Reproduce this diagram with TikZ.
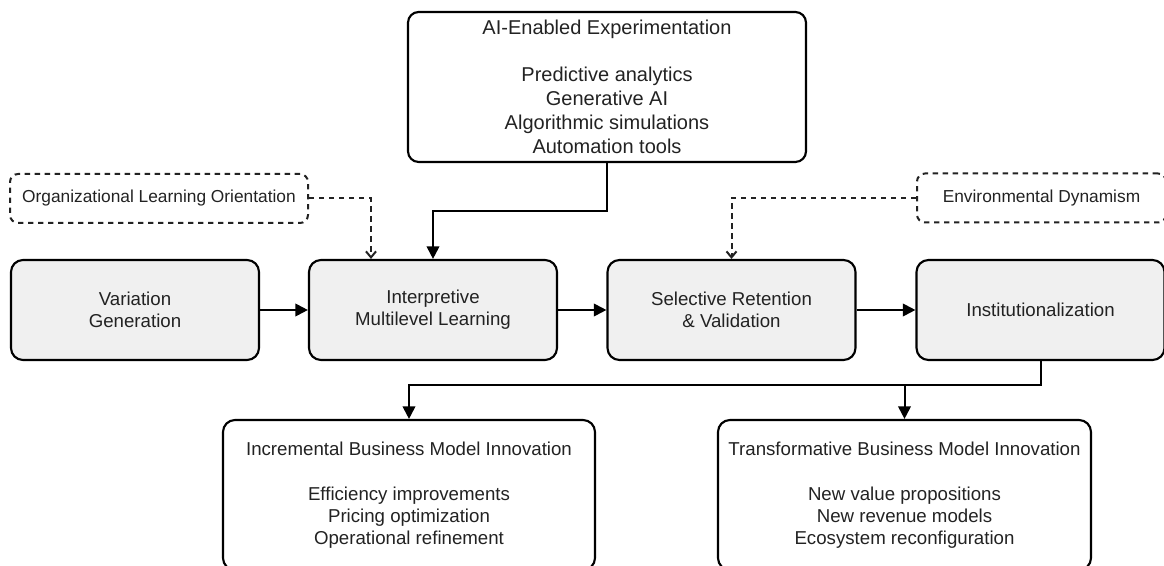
\documentclass[tikz,border=0pt]{standalone}
\usepackage{fontspec}
\setmainfont{Liberation Sans}
\usetikzlibrary{arrows.meta,positioning}
\definecolor{stagefill}{HTML}{F0F0F0}
\definecolor{ink}{HTML}{222222}

\begin{document}
\begin{tikzpicture}[x=0.75pt,y=-0.75pt,
	box/.style={draw=black,line width=1.6pt,rounded corners=9pt,align=center,text=ink,inner sep=0pt},
	stage/.style={box,fill=stagefill,minimum width=186pt,minimum height=75pt,font=\fontsize{14}{16.5}\selectfont},
	outcome/.style={box,minimum width=279pt,minimum height=112.5pt,font=\fontsize{14}{16.5}\selectfont},
	moderator/.style={draw=ink,line width=1.5pt,dash pattern=on 4pt off 3.5pt,rounded corners=6pt,minimum height=36.75pt,text=ink,font=\fontsize{13}{15}\selectfont},
	flow/.style={line width=1.5pt,-{Triangle[length=9.5pt,width=9.5pt]}},
	hint/.style={draw=ink,line width=1.5pt,dash pattern=on 4pt off 3.5pt,-{Straight Barb[length=4.5pt,width=7.5pt]}}]
	\useasboundingbox (0,0) rectangle (1164,566);

	\node[box,minimum width=298.5pt,minimum height=112.5pt,rounded corners=8pt,font=\fontsize{15}{18}\selectfont] (ai) at (607,87)
		{AI-Enabled Experimentation\\[17pt]Predictive analytics\\Generative AI\\Algorithmic simulations\\Automation tools};

	\node[moderator,minimum width=223.5pt] (org) at (159,198.5) {Organizational Learning Orientation};
	\node[moderator,minimum width=186.75pt] (env) at (1041.5,198) {Environmental Dynamism};

	\node[stage] (var) at (135,310) {Variation\\Generation};
	\node[stage] (interp) at (433,310) {Interpretive\\Multilevel Learning};
	\node[stage] (sel) at (731.5,310) {Selective Retention\\\& Validation};
	\node[stage] (inst) at (1040.5,310) {Institutionalization};

	\node[outcome] (inc) at (409,495)
		{Incremental Business Model Innovation\\[17pt]Efficiency improvements\\Pricing optimization\\Operational refinement};
	\node[outcome,minimum width=279.75pt] (trans) at (904.5,495)
		{Transformative Business Model Innovation\\[17pt]New value propositions\\New revenue models\\Ecosystem reconfiguration};

	\draw[flow] (ai.south) -- ++(0,48) -| (interp.north);
	\draw[hint] (org.east) -| ([xshift=-46.5pt]interp.north);
	\draw[hint] (env.west) -| (sel.north);

	\draw[flow] (var) -- (interp);
	\draw[flow] (interp) -- (sel);
	\draw[flow] (sel) -- (inst);

	\draw[flow] (inst.south) -- ++(0,24) coordinate (split) -| (inc.north);
	\draw[flow] (split -| trans.north) -- (trans.north);
\end{tikzpicture}
\end{document}
